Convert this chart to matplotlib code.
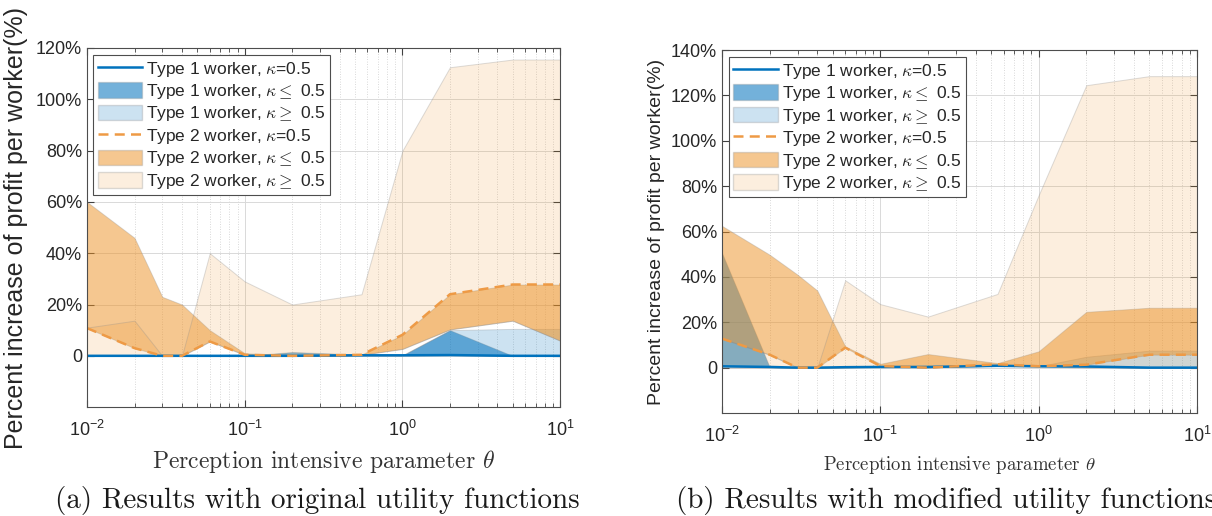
import matplotlib
matplotlib.use("Agg")
import matplotlib.pyplot as plt
from matplotlib.colors import to_rgba
from matplotlib.lines import Line2D
from matplotlib.patches import Patch
from matplotlib.ticker import LogLocator, NullFormatter, FixedLocator, FixedFormatter

plt.rcParams['font.family'] = ['Liberation Sans', 'DejaVu Sans']
plt.rcParams['mathtext.fontset'] = 'custom'
plt.rcParams['mathtext.rm'] = 'Liberation Sans'
plt.rcParams['mathtext.it'] = 'Liberation Sans:italic'

theta = [0.01, 0.02, 0.03, 0.04, 0.06, 0.1, 0.2, 0.55, 1, 2, 5, 10]

# (a) original utility functions, values in %
a_t1_mid = [0, 0, 0, 0, 0, 0, 0, 0.2, 0.2, 0.3, 0, 0]
a_t1_le = [0, 0, 0, 0, 0, 0, 1.5, 0.5, 0.2, 10, 0, 0]
a_t1_ge = [0, 0, 0, 0, 0, 0, 0, 0.2, 0.2, 10, 10.5, 10.5]
a_t2_mid = [10.8, 3, 0, 0, 5.6, 0.4, 0, 0.4, 8.2, 24, 27.8, 27.8]
a_t2_le_lo = [10.8, 3, 0, 0, 5.6, 0.4, 0, 0.4, 2.7, 10.3, 13.7, 5.9]
a_t2_le_hi = [60, 46, 23, 20, 10, 1, 0.3, 0.5, 8.2, 24, 27.8, 27.8]
a_t2_ge_lo = [0, 0, 0, 0, 5.6, 0.4, 0, 0.4, 2.7, 10.3, 13.7, 5.9]
a_t2_ge_hi = [11, 13.7, 0, 0, 40, 29, 20, 24, 80, 112.5, 115.5, 115.5]

# (b) modified utility functions, values in %
b_t1_mid = [0.6, 0.3, 0, 0, 0.2, 0.3, 0.3, 0.8, 0.6, 0.5, 0, 0]
b_t1_le = [50.6, 0.3, 0, 0, 0.2, 0.3, 0.3, 0.8, 0.6, 0.5, 0, 0]
b_t1_ge = [0.6, 0.3, 0, 0, 0.2, 0.3, 0.3, 0.8, 0.6, 4.8, 7.5, 7.5]
b_t2_mid = [12.8, 5.7, 0, 0, 8.8, 0.7, 0, 1.5, 0.6, 1.3, 5.7, 5.7]
b_t2_le_lo = [12.8, 5.7, 0, 0, 8.8, 0.7, 0, 1.5, 0.6, 1.3, 5.7, 5.7]
b_t2_le_hi = [62.5, 49.8, 41, 34, 9.4, 1.7, 6, 2, 7.2, 24.6, 26.4, 26.4]
b_t2_ge_lo = [0, 0, 0, 0, 0, 0.7, 0, 1.5, 0.6, 0, 0, 0]
b_t2_ge_hi = [12.8, 5.7, 0, 0, 38.5, 28, 22.5, 32.5, 76, 124.5, 128.5, 128.5]

labels = [r'Type 1 worker, $\kappa$=0.5', r'Type 1 worker, $\kappa\leq$ 0.5',
          r'Type 1 worker, $\kappa\geq$ 0.5', r'Type 2 worker, $\kappa$=0.5',
          r'Type 2 worker, $\kappa\leq$ 0.5', r'Type 2 worker, $\kappa\geq$ 0.5']

blue = '#0072BD'
orange = '#ED9123'
dash_col = '#EE9A45'
edge = (0.55, 0.55, 0.55, 0.3)
f_t1_le = to_rgba(blue, 0.55)
f_t1_ge = to_rgba(blue, 0.2)
f_t2_le = to_rgba(orange, 0.5)
f_t2_ge = to_rgba(orange, 0.15)


def panel(ax, t1_mid, t1_le, t1_ge, t2_mid, t2_le_lo, t2_le_hi, t2_ge_lo, t2_ge_hi,
          ymax, ylab_size, xlab_size, ylab_pad, leg_bbox):
    ax.fill_between(theta, t1_mid, t1_le, facecolor=f_t1_le, edgecolor=edge, lw=0.7)
    ax.fill_between(theta, t1_mid, t1_ge, facecolor=f_t1_ge, edgecolor=edge, lw=0.7)
    ax.fill_between(theta, t2_le_lo, t2_le_hi, facecolor=f_t2_le, edgecolor=edge, lw=0.7)
    ax.fill_between(theta, t2_ge_lo, t2_ge_hi, facecolor=f_t2_ge, edgecolor=edge, lw=0.7)
    ax.plot(theta, t1_mid, color=blue, lw=1.8)
    ax.plot(theta, t2_mid, color=dash_col, lw=1.8, ls=(0, (4, 2.5)))

    ax.set_xscale('log')
    ax.set_xlim(0.01, 10)
    ax.set_ylim(-20, ymax)
    yt = list(range(0, ymax + 1, 20))
    ax.yaxis.set_major_locator(FixedLocator(yt))
    ax.yaxis.set_major_formatter(FixedFormatter(['0'] + ['%d%%' % v for v in yt[1:]]))
    ax.xaxis.set_minor_locator(LogLocator(base=10, subs=range(2, 10)))
    ax.xaxis.set_minor_formatter(NullFormatter())
    ax.grid(True, which='major', color='0.85', lw=0.7)
    ax.grid(True, which='minor', axis='x', color='0.8', lw=0.6, ls=(0, (1, 2)))
    ax.set_axisbelow(True)
    ax.tick_params(which='both', direction='in', top=True, right=True, colors='0.25',
                   labelcolor='0.15', labelsize=13)
    ax.tick_params(which='major', length=5)
    ax.tick_params(which='minor', length=3)
    ax.tick_params(axis='x', pad=9)
    for s in ax.spines.values():
        s.set_color('0.3')
        s.set_linewidth(0.8)

    ax.set_ylabel('Percent increase of profit per worker(%)', fontsize=ylab_size,
                  color='0.15', labelpad=ylab_pad)
    ax.set_xlabel(r'Perception intensive parameter $\theta$', fontsize=xlab_size,
                  family='cmr10', math_fontfamily='cm', color='0.2', labelpad=6)

    handles = [Line2D([], [], color=blue, lw=1.8),
               Patch(facecolor=f_t1_le, edgecolor=edge),
               Patch(facecolor=f_t1_ge, edgecolor=edge),
               Line2D([], [], color=dash_col, lw=1.8, ls=(0, (4, 2.5))),
               Patch(facecolor=f_t2_le, edgecolor=edge),
               Patch(facecolor=f_t2_ge, edgecolor=edge)]
    leg = ax.legend(handles, labels, loc='upper left', bbox_to_anchor=leg_bbox,
                    fontsize=12.5, fancybox=False, framealpha=1, edgecolor='0.3',
                    handlelength=2.55, handleheight=1.0, handletextpad=0.25,
                    labelspacing=0.2, borderpad=0.25, borderaxespad=0)
    leg.get_frame().set_linewidth(0.8)
    for t in leg.get_texts():
        t.set_math_fontfamily('cm')
        t.set_color('0.15')


fig = plt.figure(figsize=(12.12, 5.16), dpi=100)
ax1 = fig.add_axes([0.0718, 0.211, 0.3904, 0.696])
ax2 = fig.add_axes([0.5957, 0.1996, 0.3919, 0.7034])

panel(ax1, a_t1_mid, a_t1_le, a_t1_ge, a_t2_mid, a_t2_le_lo, a_t2_le_hi,
      a_t2_ge_lo, a_t2_ge_hi, 120, 18, 17, 6, (0.013, 0.98))
panel(ax2, b_t1_mid, b_t1_le, b_t1_ge, b_t2_mid, b_t2_le_lo, b_t2_le_hi,
      b_t2_ge_lo, b_t2_ge_hi, 140, 14, 13.5, 4, (0.015, 0.98))

fig.text(0.262, 0.031, '(a) Results with original utility functions', family='cmr10',
         fontsize=21, ha='center', va='center', color='0.1')
fig.text(0.558, 0.031, '(b) Results with modified utility functions', family='cmr10',
         fontsize=21, ha='left', va='center', color='0.1')

fig.savefig('out.png', dpi=100)
